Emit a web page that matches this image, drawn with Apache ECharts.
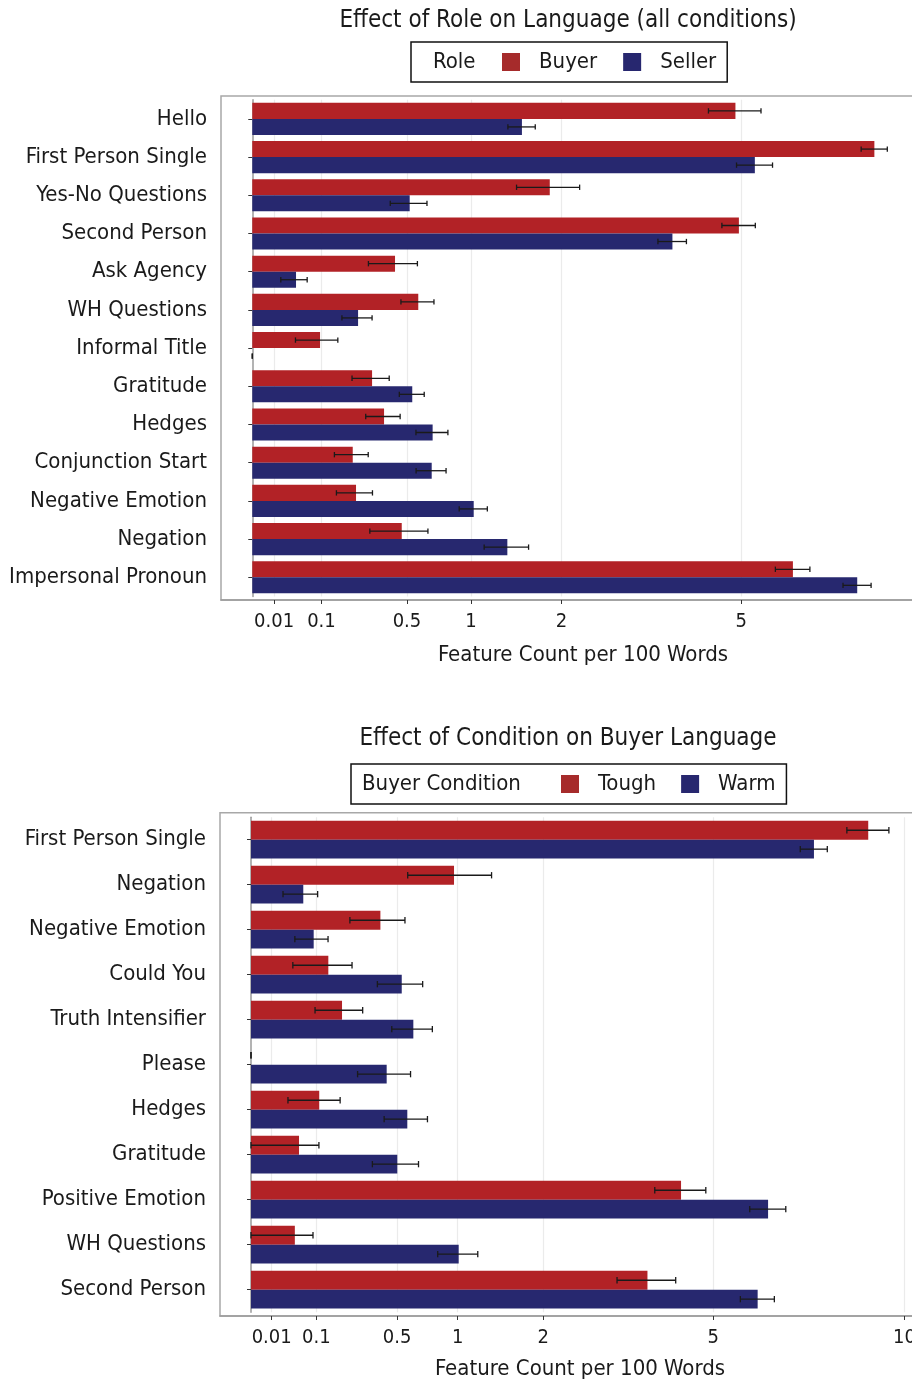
<!DOCTYPE html>
<html>
<head>
<meta charset="utf-8">
<script src="https://cdn.jsdelivr.net/npm/echarts@6/dist/echarts.min.js"></script>
<style>
  html, body { margin: 0; padding: 0; background: #fff; }
  #chart { width: 912px; height: 1384px; }
</style>
</head>
<body>
<div id="chart"></div>
<script>
// top panel: role
var roleFeatures = ['Hello', 'First Person Single', 'Yes-No Questions', 'Second Person', 'Ask Agency',
  'WH Questions', 'Informal Title', 'Gratitude', 'Hedges', 'Conjunction Start',
  'Negative Emotion', 'Negation', 'Impersonal Pronoun'];
var buyerMean = [4.88, 8.09, 1.85, 4.95, 0.426, 0.576, 0.096, 0.300, 0.363, 0.211, 0.225, 0.467, 6.11];
var buyerSE = [0.53, 0.34, 0.39, 0.34, 0.144, 0.114, 0.057, 0.092, 0.094, 0.070, 0.077, 0.178, 0.39];
var sellerMean = [1.52, 5.28, 0.518, 3.69, 0.040, 0.234, 0, 0.535, 0.680, 0.673, 1.025, 1.36, 7.65];
var sellerSE = [0.154, 0.378, 0.12, 0.25, 0.023, 0.066, 0, 0.083, 0.12, 0.112, 0.13, 0.236, 0.355];

// bottom panel: buyer condition
var condFeatures = ['First Person Single', 'Negation', 'Negative Emotion', 'Could You', 'Truth Intensifier',
  'Please', 'Hedges', 'Gratitude', 'Positive Emotion', 'WH Questions', 'Second Person'];
var toughMean = [8.92, 0.965, 0.392, 0.140, 0.194, 0, 0.109, 0.054, 4.33, 0.045, 3.68];
var toughSE = [0.607, 0.39, 0.163, 0.099, 0.098, 0, 0.077, 0.054, 0.513, 0.045, 0.543];
var warmMean = [7.42, 0.064, 0.092, 0.532, 0.617, 0.431, 0.572, 0.501, 6.26, 1.01, 6.01];
var warmSE = [0.356, 0.040, 0.047, 0.158, 0.153, 0.165, 0.157, 0.156, 0.436, 0.194, 0.403];

// x axis is square-root scaled
var tickValues = [0.01, 0.1, 0.5, 1, 2, 5, 10];

var FONT = '"Liberation Sans Narrow", "Arial Narrow", "DejaVu Sans Condensed", sans-serif';
var RED = '#B22226';
var BLUE = '#27286F';
var RED_KEY = '#A62B2B';
var BLUE_KEY = '#27276F';

var chart = echarts.init(document.getElementById('chart'), null, { renderer: 'canvas' });

var sqrtTicks = tickValues.map(Math.sqrt);

function barData(arr) {
  return arr.map(function (v) { return Math.sqrt(v); });
}

function errData(mean, se) {
  return mean.map(function (m, i) { return [Math.sqrt(m), i, m, se[i]]; });
}

// sign: -1 = upper bar of the pair, +1 = lower bar
function errorBars(sign) {
  return function (params, api) {
    var cat = api.value(1), m = api.value(2), s = api.value(3);
    var lo = api.coord([Math.sqrt(Math.max(0, m - s)), cat]);
    var hi = api.coord([Math.sqrt(m + s), cat]);
    var band = api.size([0, 1])[1];
    var y = lo[1] + sign * band * 0.21;
    var cap = band * 0.07;
    var st = { stroke: '#1a1a1a', lineWidth: 1.3 };
    return {
      type: 'group',
      children: [
        { type: 'line', shape: { x1: lo[0], y1: y, x2: hi[0], y2: y }, style: st },
        { type: 'line', shape: { x1: lo[0], y1: y - cap, x2: lo[0], y2: y + cap }, style: st },
        { type: 'line', shape: { x1: hi[0], y1: y - cap, x2: hi[0], y2: y + cap }, style: st }
      ]
    };
  };
}

function xAxisFor(gridIndex, min, max, offset) {
  return {
    type: 'value', gridIndex: gridIndex, min: min, max: max, offset: offset,
    axisLine: { show: true, lineStyle: { color: '#9a9a9a', width: 1.5 } },
    axisTick: { show: true, length: 4, customValues: sqrtTicks, lineStyle: { color: '#333' } },
    axisLabel: {
      customValues: sqrtTicks, margin: 12, color: '#1a1a1a', fontSize: 20, fontFamily: FONT,
      formatter: function (v) { return String(+(v * v).toFixed(2)); }
    },
    splitLine: { show: true, lineStyle: { color: '#ebebeb', width: 1.2 } }
  };
}

function yAxisFor(gridIndex, cats) {
  return {
    type: 'category', gridIndex: gridIndex, data: cats, inverse: true,
    axisLine: { show: true, lineStyle: { color: '#9a9a9a', width: 1.5 } },
    axisTick: { show: true, length: 4, alignWithLabel: true, lineStyle: { color: '#333' } },
    axisLabel: { margin: 14, color: '#1a1a1a', fontSize: 22, fontFamily: FONT }
  };
}

function hiddenAxis(type, gridIndex) {
  return { type: type, gridIndex: gridIndex, show: false };
}

function txt(x, y, text, size, align) {
  return {
    type: 'text', x: x, y: y, silent: true,
    style: {
      text: text, fill: '#1a1a1a', font: size + 'px ' + FONT,
      align: align || 'center', verticalAlign: 'middle',
      textAlign: align || 'center', textVerticalAlign: 'middle'
    }
  };
}

var legendText = { fontSize: 22, fontFamily: FONT, color: '#1a1a1a', lineHeight: 21, padding: [0, 0, 0, 14] };

var option = {
  animation: false,
  backgroundColor: '#fff',
  grid: [
    { left: 221, top: 99.8, width: 709.3, height: 496.6, outerBoundsMode: 'none' },
    { left: 220, top: 817.2, width: 713, height: 495, outerBoundsMode: 'none' },
    // frames
    { left: 221, top: 96, width: 709.3, height: 504, show: true, borderColor: '#a8a8a8', borderWidth: 1.5, backgroundColor: 'transparent', outerBoundsMode: 'none' },
    { left: 220, top: 812.7, width: 713, height: 503.3, show: true, borderColor: '#a8a8a8', borderWidth: 1.5, backgroundColor: 'transparent', outerBoundsMode: 'none' }
  ],
  xAxis: [
    xAxisFor(0, -0.143, 3.1, 3.6),
    xAxisFor(1, -0.150, 3.3, 3.8),
    hiddenAxis('value', 2),
    hiddenAxis('value', 3)
  ],
  yAxis: [
    yAxisFor(0, roleFeatures),
    yAxisFor(1, condFeatures),
    hiddenAxis('value', 2),
    hiddenAxis('value', 3)
  ],
  legend: [
    {
      data: [{ name: 'Buyer', itemStyle: { color: RED_KEY } }, { name: 'Seller', itemStyle: { color: BLUE_KEY } }],
      left: 411, top: 42, orient: 'horizontal',
      padding: [9, 11, 9, 91], itemGap: 26, itemWidth: 18, itemHeight: 18, icon: 'rect',
      borderColor: '#111', borderWidth: 1.5, selectedMode: false, textStyle: legendText
    },
    {
      data: [{ name: 'Tough', itemStyle: { color: RED_KEY } }, { name: 'Warm', itemStyle: { color: BLUE_KEY } }],
      left: 351, top: 764, orient: 'horizontal',
      padding: [9, 11, 9, 210], itemGap: 25, itemWidth: 18, itemHeight: 18, icon: 'rect',
      borderColor: '#111', borderWidth: 1.5, selectedMode: false, textStyle: legendText
    }
  ],
  graphic: [
    txt(568, 21, 'Effect of Role on Language (all conditions)', 24),
    txt(433, 62, 'Role', 22, 'left'),
    txt(583, 655, 'Feature Count per 100 Words', 22),
    txt(568, 739, 'Effect of Condition on Buyer Language', 24),
    txt(362, 784, 'Buyer Condition', 22, 'left'),
    txt(580, 1369, 'Feature Count per 100 Words', 22)
  ],
  series: [
    { name: 'Buyer', type: 'bar', xAxisIndex: 0, yAxisIndex: 0, data: barData(buyerMean),
      barWidth: '42%', barGap: '0%', itemStyle: { color: RED } },
    { name: 'Seller', type: 'bar', xAxisIndex: 0, yAxisIndex: 0, data: barData(sellerMean),
      barWidth: '42%', barGap: '0%', itemStyle: { color: BLUE } },
    { name: 'Tough', type: 'bar', xAxisIndex: 1, yAxisIndex: 1, data: barData(toughMean),
      barWidth: '42%', barGap: '0%', itemStyle: { color: RED } },
    { name: 'Warm', type: 'bar', xAxisIndex: 1, yAxisIndex: 1, data: barData(warmMean),
      barWidth: '42%', barGap: '0%', itemStyle: { color: BLUE } },
    { type: 'custom', xAxisIndex: 0, yAxisIndex: 0, renderItem: errorBars(-1), data: errData(buyerMean, buyerSE), z: 5, silent: true },
    { type: 'custom', xAxisIndex: 0, yAxisIndex: 0, renderItem: errorBars(1), data: errData(sellerMean, sellerSE), z: 5, silent: true },
    { type: 'custom', xAxisIndex: 1, yAxisIndex: 1, renderItem: errorBars(-1), data: errData(toughMean, toughSE), z: 5, silent: true },
    { type: 'custom', xAxisIndex: 1, yAxisIndex: 1, renderItem: errorBars(1), data: errData(warmMean, warmSE), z: 5, silent: true }
  ]
};

chart.setOption(option);
</script>
</body>
</html>
